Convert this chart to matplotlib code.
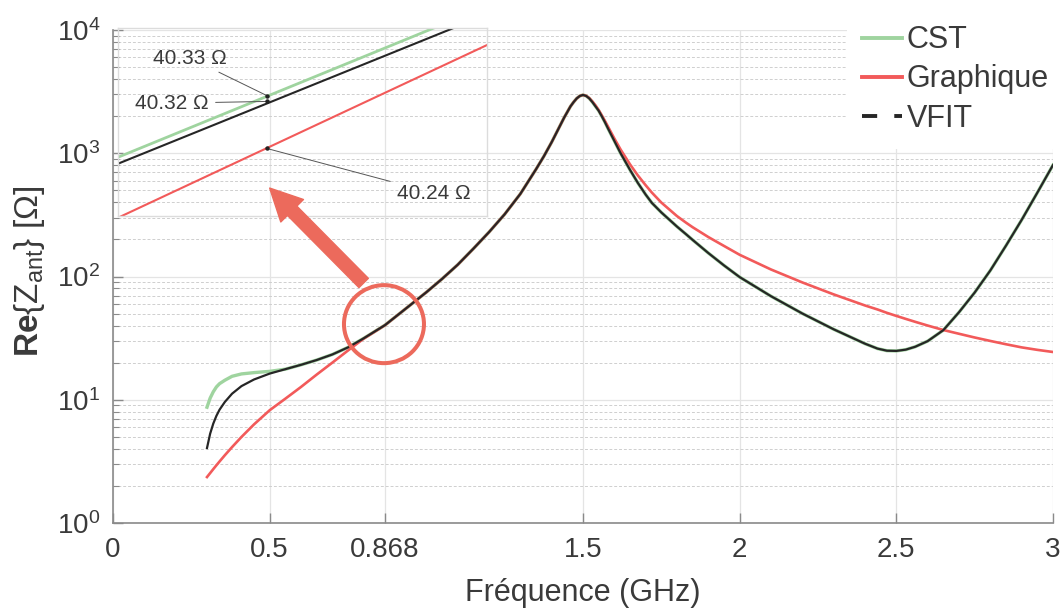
import matplotlib
matplotlib.use('Agg')
import matplotlib.pyplot as plt
from matplotlib.lines import Line2D
from matplotlib.patches import Ellipse, FancyArrowPatch
import matplotlib.transforms as mtrans
from matplotlib.ticker import LogLocator, LogFormatterMathtext, NullFormatter, FixedLocator

plt.rcParams['font.family'] = ['Liberation Sans', 'DejaVu Sans']
plt.rcParams['mathtext.fontset'] = 'custom'
plt.rcParams['mathtext.rm'] = 'Liberation Sans'
plt.rcParams['mathtext.it'] = 'Liberation Sans:italic'
plt.rcParams['mathtext.bf'] = 'Liberation Sans:bold'

# ---------------- data (GHz, Ohm) ----------------
freq = [0.30, 0.31, 0.32, 0.33, 0.34, 0.357, 0.38, 0.41, 0.45, 0.50,
        0.55, 0.60, 0.65, 0.70, 0.75, 0.80, 0.868, 0.92, 1.00, 1.05,
        1.10, 1.15, 1.20, 1.25, 1.30, 1.35, 1.375, 1.40, 1.42, 1.44,
        1.46, 1.47, 1.48, 1.49, 1.50, 1.51, 1.52, 1.53, 1.54, 1.55,
        1.56, 1.57, 1.58, 1.60, 1.62, 1.65, 1.675, 1.70, 1.72, 1.75,
        1.80, 1.83, 1.85, 1.90, 1.95, 2.00, 2.10, 2.20, 2.30, 2.40,
        2.44, 2.47, 2.50, 2.53, 2.56, 2.60, 2.65, 2.70, 2.75, 2.80,
        2.85, 2.90, 2.95, 3.00]

vfit = [4.06, 5.3, 6.4, 7.4, 8.3, 9.6, 11.2, 12.9, 14.6, 16.3,
        17.7, 19.2, 21.0, 23.3, 26.6, 31.5, 40.32, 51.3, 74.5, 95.5,
        124.5, 168, 229, 320, 468, 741, 944, 1230, 1549, 1950,
        2399, 2600, 2786, 2917, 2972, 2917, 2786, 2600, 2399, 2213,
        1995, 1786, 1585, 1259, 1000, 733, 575, 462, 395, 331,
        254, 219, 198, 155, 123, 98.9, 69.2, 50.1, 37.3, 28.5,
        26.0, 25.0, 24.9, 25.5, 26.9, 29.9, 36.7, 51.3, 74.1, 112,
        178, 288, 479, 803]

cst = [8.7, 10.3, 11.6, 12.7, 13.5, 14.4, 15.5, 16.2, 16.6, 17.0,
       17.7, 19.2, 21.0, 23.3, 26.6, 31.5, 40.33, 51.3, 74.5, 95.5,
       124.5, 168, 229, 320, 468, 741, 944, 1230, 1549, 1950,
       2399, 2600, 2786, 2917, 2972, 2917, 2786, 2600, 2399, 2213,
       1995, 1786, 1585, 1259, 1000, 733, 575, 462, 395, 331,
       254, 219, 198, 155, 123, 98.9, 69.2, 50.1, 37.3, 28.5,
       26.0, 25.0, 24.9, 25.5, 26.9, 29.9, 36.7, 51.3, 74.1, 112,
       178, 288, 479, 803]

graphique = [2.36, 2.54, 2.735, 2.94, 3.155, 3.548, 4.13, 4.99, 6.31, 8.22,
             10.2, 12.7, 16.0, 20.0, 25.1, 31.3, 40.24, 51.3, 74.5, 95.5,
             124.5, 168, 229, 320, 468, 741, 944, 1230, 1549, 1950,
             2399, 2600, 2786, 2917, 2972, 2924, 2805, 2630, 2443, 2239,
             2028, 1828, 1641, 1318, 1072, 813, 661, 550, 479, 398,
             309, 272, 251, 209, 177, 150, 114, 89.5, 71.6, 58.2,
             54.0, 50.7, 47.9, 45.3, 42.9, 40.0, 36.8, 34.3, 32.0, 30.0,
             28.2, 26.6, 25.4, 24.4]

# zoomed view around 0.868 GHz (inset)
zoom_freq = [0.8675, 0.86874]
zoom_cst = [40.225, 40.482]
zoom_vfit = [40.214, 40.468]
zoom_graphique = [40.122, 40.416]
f_mark = 0.868
mark_vals = [40.33, 40.32, 40.24]
mark_labels = ['40.33 Ω', '40.32 Ω', '40.24 Ω']

xticks = [0, 0.5, 0.868, 1.5, 2, 2.5, 3]
xticklabels = ['0', '0.5', '0.868', '1.5', '2', '2.5', '3']

# ---------------- style ----------------
C_CST = '#9fd49f'
C_GRA = '#f25a5a'
C_VF = '#262626'
C_HL = '#ec6a5c'
TXT = '#3a3a3a'

fig = plt.figure(figsize=(10.6, 6.14), dpi=100)
ax = fig.add_axes([113/1060, 1-523/614, 940/1060, 493/614])

ax.plot(freq, cst, color=C_CST, lw=2.4, zorder=3)
ax.plot(freq, graphique, color=C_GRA, lw=1.9, zorder=4)
ax.plot(freq, vfit, color=C_VF, lw=1.6, zorder=5)

ax.set_yscale('log')
ax.set_xlim(0, 3)
ax.set_ylim(1, 1e4)
ax.xaxis.set_major_locator(FixedLocator(xticks))
ax.set_xticklabels(xticklabels)
ax.yaxis.set_major_locator(LogLocator(base=10, numticks=10))
ax.yaxis.set_major_formatter(LogFormatterMathtext())
ax.yaxis.set_minor_locator(LogLocator(base=10, subs=range(2, 10), numticks=20))
ax.yaxis.set_minor_formatter(NullFormatter())

ax.grid(True, which='major', axis='both', color='#e4e4e4', lw=0.9, ls='-', zorder=0)
ax.grid(True, which='minor', axis='y', color='#cfcfcf', lw=0.7, ls=(0, (3, 2)), zorder=0)
ax.set_axisbelow(True)

for s in ['top', 'right']:
    ax.spines[s].set_visible(False)
for s in ['left', 'bottom']:
    ax.spines[s].set_color('#8a8a8a')
    ax.spines[s].set_linewidth(1.2)

ax.tick_params(axis='x', which='major', direction='in', length=7, width=1, color='#8a8a8a',
               labelsize=20, labelcolor=TXT, pad=10)
ax.tick_params(axis='y', which='major', direction='in', length=7, width=1, color='#8a8a8a',
               labelsize=20, labelcolor=TXT, pad=9)
ax.tick_params(axis='y', which='minor', direction='in', length=4, width=0.8, color='#8a8a8a')

ax.set_xlabel('Fréquence (GHz)', fontsize=22, color=TXT)
ax.xaxis.set_label_coords(0.5, -0.112)
ax.set_ylabel(r'$\mathbf{Re}\{\mathrm{Z}_{\mathrm{ant}}\}$ [Ω]', fontsize=24, color=TXT)
ax.yaxis.set_label_coords(-0.07, 0.51)

# highlight circle around 0.868 GHz
circ_tr = fig.dpi_scale_trans + mtrans.ScaledTranslation(f_mark, 40.3, ax.transData)
ax.add_patch(Ellipse((-0.01, 0.01), 0.80, 0.78, transform=circ_tr, fill=False,
                     ec=C_HL, lw=2.9, zorder=6))

# legend
handles = [Line2D([], [], color=C_CST, lw=2.8),
           Line2D([], [], color=C_GRA, lw=2.8),
           Line2D([], [], color=C_VF, lw=2.8, ls=(0, (3.9, 4.4)))]
leg = fig.legend(handles, ['CST', 'Graphique', 'VFIT'], loc='upper left',
                 bbox_to_anchor=(847/1060, 1-10/614), bbox_transform=fig.transFigure,
                 fontsize=22, frameon=True, facecolor='white', edgecolor='none',
                 framealpha=1, fancybox=False, borderpad=0.5, borderaxespad=0,
                 labelspacing=0.3, handlelength=1.3, handletextpad=0.15)
for t in leg.get_texts():
    t.set_color(TXT)

# inset (zoom near 0.868 GHz)
axi = fig.add_axes([118/1060, 1-216/614, 369/1060, 188/614])
axi.set_facecolor('none')
axi.plot(zoom_freq, zoom_cst, color=C_CST, lw=2.0)
axi.plot(zoom_freq, zoom_vfit, color=C_VF, lw=1.5)
axi.plot(zoom_freq, zoom_graphique, color=C_GRA, lw=1.5)
axi.set_xlim(zoom_freq[0], zoom_freq[1])
axi.set_ylim(40.125, 40.445)
axi.set_xticks([])
axi.set_yticks([])
for s in axi.spines.values():
    s.set_color('#dcdcdc')
    s.set_linewidth(1.0)
axi.plot([f_mark] * 3, mark_vals, 'o', ms=2.2, color='#222222', zorder=5)
label_pos = [(0.195, 0.84), (0.146, 0.60), (0.856, 0.122)]
for v, lab, pos in zip(mark_vals, mark_labels, label_pos):
    axi.annotate(lab, xy=(f_mark, v), xytext=pos, textcoords='axes fraction',
                 ha='center', va='center', fontsize=15, color=TXT,
                 arrowprops=dict(arrowstyle='-', color='#555555', lw=0.7,
                                 shrinkA=3, shrinkB=0))

# big arrow from highlight to inset
arr = FancyArrowPatch(posA=(0.80, 88.6), posB=(0.50, 522), transform=ax.transData,
                      arrowstyle='simple,head_width=2.3,head_length=2.3,tail_width=0.95',
                      mutation_scale=10, color=C_HL, shrinkA=0, shrinkB=0, zorder=10)
fig.add_artist(arr)

fig.savefig('out.png', dpi=100)
